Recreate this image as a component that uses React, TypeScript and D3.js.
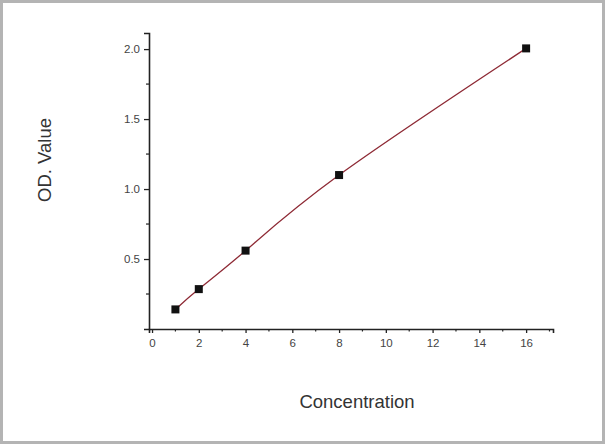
import * as React from 'react';
import * as d3 from 'd3';

const concentration = [1, 2, 4, 8, 16];
const odValue = [0.14, 0.285, 0.56, 1.1, 2.005];
const xTicks = [0, 2, 4, 6, 8, 10, 12, 14, 16];
const yTicks = [0.5, 1.0, 1.5, 2.0];

const W = 605;
const H = 444;

export default function App() {
  const ref = React.useRef<SVGSVGElement>(null);

  React.useEffect(() => {
    document.body.style.margin = '0';
    const svg = d3.select(ref.current);
    svg.selectAll('*').remove();

    // frame
    svg.append('rect')
      .attr('x', 1.5).attr('y', 1.5)
      .attr('width', W - 3).attr('height', H - 3)
      .attr('fill', '#fff')
      .attr('stroke', '#b4b4b4')
      .attr('stroke-width', 3);

    const x = d3.scaleLinear().domain([-0.13, 17.15]).range([149, 553]);
    const y = d3.scaleLinear().domain([0, 2.115]).range([329, 33]);

    const g = svg.append('g');

    const xAxis = d3.axisBottom(x).tickValues(xTicks).tickSize(4).tickPadding(6)
      .tickFormat((d: any) => `${d}`);
    const xg = g.append('g').attr('transform', `translate(0, ${y(0)})`).call(xAxis);
    const yAxis = d3.axisLeft(y).tickValues(yTicks).tickSize(5).tickPadding(4)
      .tickFormat(d3.format('.1f'));
    const yg = g.append('g').attr('transform', `translate(${x.range()[0]}, 0)`).call(yAxis);

    [xg, yg].forEach((a) => {
      a.select('.domain').attr('stroke', '#222').attr('stroke-width', 1.6);
      a.selectAll('.tick line').attr('stroke', '#222').attr('stroke-width', 1.3);
      a.selectAll('.tick text')
        .attr('fill', '#444')
        .attr('font-family', 'Liberation Sans, Arial, sans-serif')
        .attr('font-size', 11.5);
    });

    // minor ticks
    g.append('g').selectAll('line')
      .data(d3.range(1, 18, 2))
      .join('line')
      .attr('x1', (d) => x(d)).attr('x2', (d) => x(d))
      .attr('y1', y(0)).attr('y2', y(0) + 2.5)
      .attr('stroke', '#222').attr('stroke-width', 1.2);
    g.append('g').selectAll('line')
      .data([0.25, 0.75, 1.25, 1.75])
      .join('line')
      .attr('x1', x.range()[0]).attr('x2', x.range()[0] - 3)
      .attr('y1', (d) => y(d)).attr('y2', (d) => y(d))
      .attr('stroke', '#222').attr('stroke-width', 1.2);

    const pts: [number, number][] = concentration.map((c, i) => [c, odValue[i]]);

    const line = d3.line<[number, number]>()
      .x((d) => x(d[0]))
      .y((d) => y(d[1]))
      .curve(d3.curveNatural);
    g.append('path')
      .datum(pts)
      .attr('d', line)
      .attr('fill', 'none')
      .attr('stroke', '#8e2a35')
      .attr('stroke-width', 1.3);

    g.append('g').selectAll('rect')
      .data(pts)
      .join('rect')
      .attr('x', (d) => x(d[0]) - 4)
      .attr('y', (d) => y(d[1]) - 4)
      .attr('width', 8).attr('height', 8)
      .attr('fill', '#111');

    svg.append('text')
      .attr('x', 357).attr('y', 408)
      .attr('text-anchor', 'middle')
      .attr('font-family', 'Liberation Sans, Arial, sans-serif')
      .attr('font-size', 18.5)
      .attr('fill', '#333')
      .text('Concentration');

    svg.append('text')
      .attr('transform', 'translate(51, 160) rotate(-90)')
      .attr('text-anchor', 'middle')
      .attr('font-family', 'Liberation Sans, Arial, sans-serif')
      .attr('font-size', 18.5)
      .attr('fill', '#333')
      .text('OD. Value');
  }, []);

  return <svg ref={ref} width={W} height={H} style={{ display: 'block' }} />;
}
